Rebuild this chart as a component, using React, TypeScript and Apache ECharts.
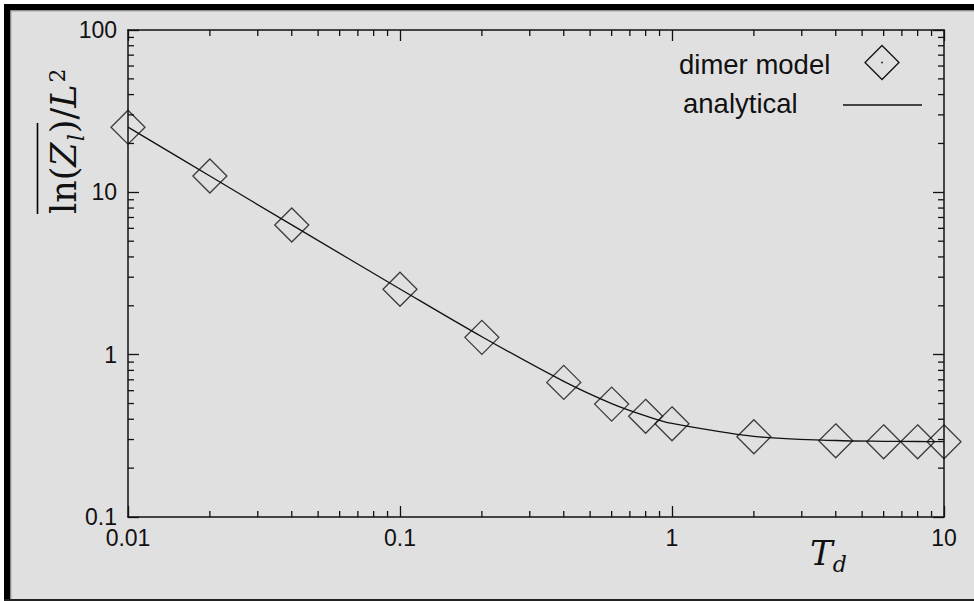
import React, { useEffect, useRef } from "react";
import * as echarts from "echarts";

// ---- data ----
const temperatures = [0.01, 0.02, 0.04, 0.1, 0.2, 0.4, 0.6, 0.8, 1, 2, 4, 6, 8, 10];
const dimerModel = [25.2, 12.6, 6.29, 2.53, 1.278, 0.675, 0.496, 0.417, 0.375, 0.312, 0.2947, 0.2905, 0.2905, 0.2905];
const analytical = [25.2, 12.6, 6.3, 2.54, 1.29, 0.685, 0.5, 0.42, 0.377, 0.314, 0.296, 0.2925, 0.2918, 0.2916];

const xMinorTicks = [0.02, 0.03, 0.04, 0.05, 0.06, 0.07, 0.08, 0.09, 0.2, 0.3, 0.4, 0.5, 0.6, 0.7, 0.8, 0.9, 2, 3, 4, 5, 6, 7, 8, 9];
const yMinorTicks = [0.2, 0.3, 0.4, 0.5, 0.6, 0.7, 0.8, 0.9, 2, 3, 4, 5, 6, 7, 8, 9, 20, 30, 40, 50, 60, 70, 80, 90];

const X_MIN = 0.01, X_MAX = 10, Y_MIN = 0.1, Y_MAX = 100;
const legendLabels = ["dimer model", "analytical"];

const INK = "#111";
const fmt = (v: number) => String(Number(Number(v).toPrecision(3)));

function buildOption() {
  const baseX = {
    type: "log" as const,
    logBase: 10,
    min: X_MIN,
    max: X_MAX,
    splitLine: { show: false },
    axisLine: { show: true, onZero: false, lineStyle: { color: INK, width: 1.5 } },
    axisTick: { show: true, inside: true, length: 11, lineStyle: { color: INK, width: 1.3 } },
  };
  const baseY = {
    type: "log" as const,
    logBase: 10,
    min: Y_MIN,
    max: Y_MAX,
    splitLine: { show: false },
    axisLine: { show: true, onZero: false, lineStyle: { color: INK, width: 1.5 } },
    axisTick: { show: true, inside: true, length: 11, lineStyle: { color: INK, width: 1.3 } },
  };
  const labelStyle = {
    fontFamily: "Liberation Sans",
    fontSize: 23,
    color: INK,
  };

  const minorX = (params: any, api: any) => {
    const v = api.value(0);
    const b = api.coord([v, Y_MIN]);
    const t = api.coord([v, Y_MAX]);
    const st = { stroke: INK, lineWidth: 1.3 };
    return {
      type: "group",
      children: [
        { type: "line", shape: { x1: b[0], y1: b[1], x2: b[0], y2: b[1] - 6 }, style: st },
        { type: "line", shape: { x1: t[0], y1: t[1], x2: t[0], y2: t[1] + 6 }, style: st },
      ],
    };
  };
  const minorY = (params: any, api: any) => {
    const v = api.value(1);
    const l = api.coord([X_MIN, v]);
    const r = api.coord([X_MAX, v]);
    const st = { stroke: INK, lineWidth: 1.3 };
    return {
      type: "group",
      children: [
        { type: "line", shape: { x1: l[0], y1: l[1], x2: l[0] + 6, y2: l[1] }, style: st },
        { type: "line", shape: { x1: r[0], y1: r[1], x2: r[0] - 6, y2: r[1] }, style: st },
      ],
    };
  };

  return {
    animation: false,
    backgroundColor: "#e0e0e0",
    grid: { left: 128, top: 30, width: 816, height: 487, containLabel: false, outerBoundsMode: "none" },
    xAxis: [
      {
        ...baseX,
        position: "bottom",
        axisLabel: { ...labelStyle, margin: 9, formatter: fmt, showMinLabel: true, showMaxLabel: true, hideOverlap: false },
      },
      { ...baseX, position: "top", axisLabel: { show: false } },
    ],
    yAxis: [
      {
        ...baseY,
        position: "left",
        axisLabel: { ...labelStyle, margin: 11, formatter: fmt, showMinLabel: true, showMaxLabel: true, hideOverlap: false },
      },
      { ...baseY, position: "right", axisLabel: { show: false } },
    ],
    series: [
      {
        name: legendLabels[1],
        type: "line",
        data: temperatures.map((t, i) => [t, analytical[i]]),
        smooth: 0.35,
        showSymbol: false,
        symbol: "none",
        lineStyle: { color: INK, width: 1.3 },
        z: 3,
      },
      {
        name: legendLabels[0],
        type: "scatter",
        data: temperatures.map((t, i) => [t, dimerModel[i]]),
        symbol: "diamond",
        symbolSize: [34, 34],
        itemStyle: { color: "rgba(0,0,0,0)", borderColor: INK, borderWidth: 1.3 },
        z: 4,
      },
      {
        type: "custom",
        data: xMinorTicks.map((v) => [v, Y_MIN]),
        renderItem: minorX,
        clip: false,
        silent: true,
        z: 5,
      },
      {
        type: "custom",
        data: yMinorTicks.map((v) => [X_MIN, v]),
        renderItem: minorY,
        clip: false,
        silent: true,
        z: 5,
      },
    ],
    graphic: [
      // frame
      { type: "rect", shape: { x: 0, y: 0, width: 974, height: 4 }, style: { fill: "#fff" } },
      { type: "rect", shape: { x: 0, y: 0, width: 4, height: 601 }, style: { fill: "#fff" } },
      { type: "rect", shape: { x: 4, y: 4, width: 970, height: 6.5 }, style: { fill: "#000" } },
      { type: "rect", shape: { x: 4, y: 4, width: 6.5, height: 597 }, style: { fill: "#000" } },
      { type: "rect", shape: { x: 10.5, y: 10.5, width: 964, height: 1 }, style: { fill: "#a8a8a8" } },
      { type: "rect", shape: { x: 10.5, y: 10.5, width: 1, height: 590 }, style: { fill: "#a8a8a8" } },
      { type: "rect", shape: { x: 4, y: 599, width: 970, height: 2 }, style: { fill: "#222" } },
      // legend
      {
        type: "text",
        x: 679,
        y: 64.5,
        style: { text: legendLabels[0], fontFamily: "Liberation Sans", fontSize: 27.5, fill: INK, align: "left", verticalAlign: "middle" },
      },
      {
        type: "polygon",
        shape: { points: [[882, 45.5], [899, 62.5], [882, 79.5], [865, 62.5]] },
        style: { fill: "none", stroke: INK, lineWidth: 1.3 },
      },
      { type: "circle", shape: { cx: 882, cy: 62.5, r: 0.8 }, style: { fill: INK } },
      {
        type: "text",
        x: 683,
        y: 103.5,
        style: { text: legendLabels[1], fontFamily: "Liberation Sans", fontSize: 27.5, fill: INK, align: "left", verticalAlign: "middle" },
      },
      { type: "line", shape: { x1: 843, y1: 105, x2: 922, y2: 105 }, style: { stroke: INK, lineWidth: 1.3 } },
      // x axis title
      {
        type: "text",
        x: 810,
        y: 553,
        style: {
          text: "{t|T}{s|d}",
          align: "left",
          verticalAlign: "middle",
          fill: INK,
          rich: {
            t: { fontFamily: "DejaVu Serif", fontStyle: "italic", fontSize: 34, fill: INK, verticalAlign: "bottom" },
            s: { fontFamily: "DejaVu Serif", fontStyle: "italic", fontSize: 22, fill: INK, verticalAlign: "bottom", padding: [0, 0, -5, 0] },
          },
        },
      },
      // y axis title (rotated)
      {
        type: "text",
        x: 64,
        y: 214,
        rotation: Math.PI / 2,
        style: {
          text: "{n|ln(}{i|Z}{s|l}{n|)/}{i|L}{p|2}",
          align: "left",
          verticalAlign: "middle",
          fill: INK,
          rich: {
            n: { fontFamily: "DejaVu Serif", fontSize: 35, fill: INK, verticalAlign: "bottom" },
            i: { fontFamily: "DejaVu Serif", fontStyle: "italic", fontSize: 35, fill: INK, verticalAlign: "bottom" },
            s: { fontFamily: "DejaVu Serif", fontStyle: "italic", fontSize: 22, fill: INK, verticalAlign: "bottom", padding: [0, 1, -6, 1] },
            p: { fontFamily: "DejaVu Serif", fontSize: 22, fill: INK, verticalAlign: "top", padding: [0, 0, 0, 2] },
          },
        },
      },
      { type: "line", shape: { x1: 37.5, y1: 123, x2: 37.5, y2: 214 }, style: { stroke: "#000", lineWidth: 1.6 } },
    ],
  };
}

export default function App() {
  const ref = useRef<HTMLDivElement>(null);
  useEffect(() => {
    if (!ref.current) return;
    const chart = echarts.init(ref.current, null, { renderer: "svg" });
    chart.setOption(buildOption() as any);
    return () => chart.dispose();
  }, []);
  return <div ref={ref} style={{ position: "absolute", left: 0, top: 0, width: 974, height: 601 }} />;
}
